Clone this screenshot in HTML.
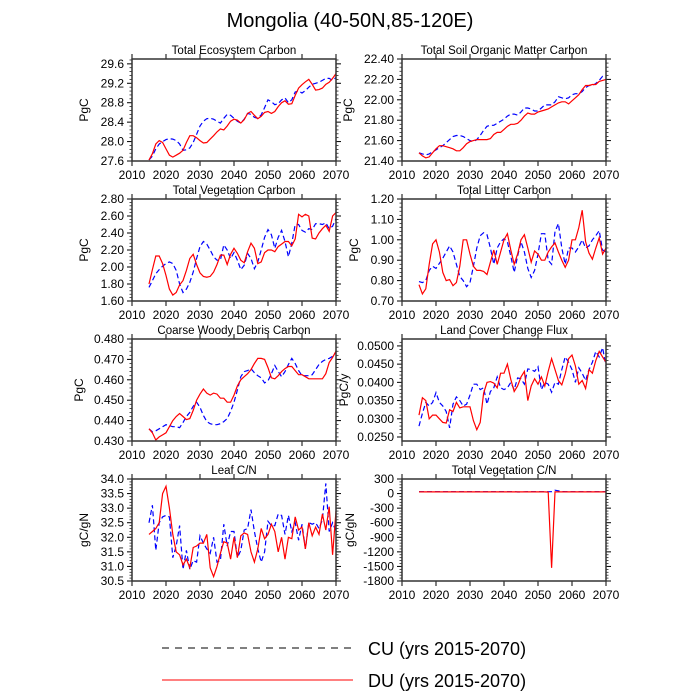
<!DOCTYPE html>
<html><head><meta charset="utf-8"><style>
body{margin:0;background:#fff}
svg{display:block;font-family:"Liberation Sans",sans-serif}
</style></head><body>
<svg id="c" width="700" height="700">
<text x="350" y="27" text-anchor="middle" font-size="20">Mongolia (40-50N,85-120E)</text>
<line x1="162" y1="648" x2="353" y2="648" stroke="#000" stroke-width="1" stroke-dasharray="7,6"/>
<text x="368" y="655" font-size="18">CU (yrs 2015-2070)</text>
<line x1="162" y1="680" x2="353" y2="680" stroke="#f00" stroke-width="1"/>
<text x="368" y="687" font-size="18">DU (yrs 2015-2070)</text>
</svg>
<script>
const xTicks=[2010,2020,2030,2040,2050,2060,2070];
const startYear=2015;
const teRed=[27.62,27.75,27.95,28.02,27.98,27.85,27.72,27.68,27.72,27.76,27.82,27.98,28.12,28.12,28.08,28.02,27.97,27.98,28.05,28.12,28.2,28.26,28.24,28.32,28.42,28.46,28.44,28.38,28.45,28.58,28.62,28.54,28.47,28.52,28.6,28.62,28.58,28.62,28.72,28.8,28.84,28.77,28.78,28.95,29.1,29.17,29.23,29.28,29.18,29.06,29.07,29.1,29.18,29.22,29.3,29.4];
const teBlue=[27.62,27.7,27.85,27.95,28.0,28.04,28.06,28.05,28.02,27.95,27.82,27.83,27.87,27.98,28.15,28.32,28.42,28.47,28.48,28.46,28.42,28.38,28.48,28.56,28.54,28.48,28.42,28.38,28.46,28.58,28.56,28.5,28.48,28.55,28.7,28.86,28.82,28.76,28.78,28.86,28.9,28.8,28.86,29.02,29.04,29.0,29.05,29.12,29.18,29.2,29.22,29.26,29.3,29.3,29.26,29.32];
const teTicks=[27.6,28.0,28.4,28.8,29.2,29.6];
const soRed=[21.48,21.45,21.43,21.44,21.48,21.52,21.55,21.55,21.54,21.53,21.52,21.5,21.5,21.53,21.57,21.59,21.6,21.61,21.61,21.61,21.61,21.62,21.66,21.68,21.68,21.71,21.74,21.76,21.76,21.77,21.8,21.84,21.87,21.86,21.86,21.88,21.89,21.9,21.91,21.93,21.95,21.97,21.98,21.98,21.96,21.99,22.02,22.05,22.1,22.14,22.14,22.15,22.15,22.18,22.19,22.2];
const soBlue=[21.48,21.47,21.46,21.47,21.49,21.51,21.53,21.55,21.58,21.61,21.64,21.65,21.65,21.64,21.62,21.6,21.59,21.61,21.65,21.7,21.74,21.75,21.75,21.77,21.79,21.81,21.84,21.86,21.86,21.85,21.88,21.92,21.92,21.91,21.89,21.89,21.92,21.95,21.95,21.95,21.98,22.03,22.02,22.01,22.02,22.05,22.06,22.06,22.08,22.12,22.14,22.14,22.16,22.19,22.23,22.23];
const soTicks=[21.4,21.6,21.8,22.0,22.2,22.4];
const tvRed=[1.8,1.97,2.13,2.13,2.04,1.9,1.74,1.67,1.7,1.79,1.84,1.96,2.1,2.15,2.03,1.93,1.89,1.88,1.89,1.94,2.03,2.14,2.14,2.03,2.15,2.22,2.16,2.08,2.05,2.18,2.28,2.22,2.04,2.06,2.17,2.2,2.2,2.18,2.24,2.27,2.3,2.3,2.25,2.33,2.62,2.59,2.62,2.6,2.34,2.33,2.4,2.45,2.49,2.42,2.6,2.64];
const tvBlue=[1.76,1.84,1.92,1.97,2.01,2.04,2.06,2.04,1.96,1.8,1.7,1.74,1.82,1.94,2.1,2.24,2.3,2.27,2.2,2.12,2.08,2.08,2.26,2.2,2.1,2.17,2.08,1.97,2.02,2.16,2.1,1.98,2.06,2.2,2.35,2.44,2.38,2.22,2.35,2.43,2.3,2.12,2.28,2.5,2.5,2.43,2.41,2.45,2.44,2.51,2.51,2.5,2.52,2.45,2.48,2.57];
const tvTicks=[1.6,1.8,2.0,2.2,2.4,2.6,2.8];
const tlRed=[0.78,0.735,0.76,0.88,0.98,1.0,0.94,0.84,0.8,0.805,0.775,0.79,0.87,1.0,1.0,0.93,0.87,0.85,0.85,0.845,0.83,0.89,0.95,0.88,0.94,1.0,1.03,0.95,0.88,0.93,1.0,1.025,0.96,0.89,0.945,0.93,0.9,0.9,0.94,0.965,0.985,0.94,0.9,0.865,0.9,1.0,1.0,1.06,1.145,0.99,0.935,0.905,0.96,1.01,0.93,0.96];
const tlBlue=[0.795,0.79,0.8,0.85,0.87,0.86,0.885,0.91,0.94,0.97,0.94,0.88,0.82,0.8,0.77,0.79,0.87,0.96,1.02,1.035,1.025,0.96,0.88,0.96,0.99,1.005,0.99,0.92,0.84,0.92,0.99,0.94,0.86,0.815,0.85,0.93,1.03,1.03,0.9,0.88,1.04,1.08,0.96,0.88,0.96,0.96,0.94,0.965,1.0,0.96,0.97,1.0,1.02,1.045,0.95,0.94];
const tlTicks=[0.7,0.8,0.9,1.0,1.1,1.2];
const cwRed=[0.436,0.434,0.4305,0.432,0.433,0.434,0.437,0.44,0.442,0.4435,0.442,0.4405,0.441,0.445,0.45,0.453,0.4555,0.4535,0.4525,0.4535,0.453,0.451,0.451,0.449,0.449,0.4525,0.457,0.46,0.4615,0.463,0.465,0.468,0.4705,0.4705,0.47,0.466,0.461,0.4605,0.462,0.464,0.4655,0.4665,0.4665,0.4645,0.4625,0.4625,0.4615,0.4605,0.4605,0.4605,0.4605,0.4605,0.463,0.4685,0.471,0.474];
const cwBlue=[0.436,0.4345,0.435,0.436,0.437,0.438,0.4375,0.437,0.437,0.4365,0.439,0.442,0.444,0.447,0.449,0.4465,0.4425,0.4395,0.4385,0.438,0.438,0.4385,0.4395,0.441,0.4445,0.449,0.455,0.4615,0.464,0.4645,0.4655,0.4635,0.462,0.461,0.4585,0.4595,0.463,0.467,0.464,0.4615,0.464,0.4675,0.4705,0.468,0.4645,0.462,0.462,0.462,0.4625,0.465,0.4675,0.469,0.47,0.4705,0.4715,0.4735];
const cwTicks=[0.43,0.44,0.45,0.46,0.47,0.48];
const lcRed=[0.031,0.0358,0.035,0.03,0.031,0.031,0.03,0.029,0.0288,0.0325,0.032,0.0345,0.033,0.0333,0.0333,0.0333,0.0295,0.027,0.029,0.037,0.04,0.0402,0.0398,0.0385,0.0425,0.0425,0.045,0.0408,0.0375,0.039,0.0415,0.043,0.035,0.039,0.041,0.0395,0.0415,0.039,0.043,0.0465,0.0435,0.0405,0.0393,0.0423,0.0465,0.0475,0.0445,0.0395,0.0405,0.0383,0.0435,0.0425,0.046,0.0485,0.047,0.0455];
const lcBlue=[0.028,0.0315,0.0345,0.0335,0.0345,0.0372,0.0345,0.0335,0.032,0.0275,0.034,0.036,0.035,0.0335,0.034,0.0365,0.0395,0.0395,0.038,0.0385,0.034,0.0375,0.0385,0.0415,0.0385,0.038,0.0385,0.04,0.038,0.0412,0.041,0.0395,0.0437,0.0435,0.043,0.0443,0.038,0.04,0.0395,0.0373,0.04,0.0395,0.0435,0.047,0.0455,0.0435,0.04,0.044,0.0425,0.0405,0.0435,0.0455,0.0485,0.047,0.0495,0.0445];
const lcTicks=[0.025,0.03,0.035,0.04,0.045,0.05];
const lnRed=[32.1,32.2,32.3,32.5,33.5,33.75,33.0,32.1,31.5,31.4,31.05,31.25,30.95,31.65,31.7,31.8,31.8,32.1,30.95,30.65,31.0,31.45,31.85,31.8,31.25,32.0,31.3,32.05,32.15,32.1,31.5,31.15,31.6,32.3,31.95,32.1,32.45,32.2,31.5,32.0,31.25,32.0,31.95,32.7,32.25,32.35,31.6,32.5,32.05,32.35,32.1,32.8,32.25,33.05,31.4,32.9];
const lnBlue=[32.5,33.1,31.55,32.5,32.7,32.75,32.7,31.3,31.7,32.4,30.9,31.55,30.9,31.2,31.15,32.05,31.8,31.6,31.45,32.0,31.15,31.2,32.45,31.7,32.2,32.2,31.3,31.55,32.25,32.3,32.95,32.2,31.6,31.15,31.5,32.55,32.4,32.4,32.8,32.75,32.1,32.75,32.2,32.5,31.9,32.45,31.6,32.5,32.45,32.5,32.3,32.6,33.85,32.2,32.5,32.2];
const lnTicks=[30.5,31.0,31.5,32.0,32.5,33.0,33.5,34.0];
const vnRed=[35,35,35,35,35,35,35,35,35,35,35,35,35,35,35,35,35,35,35,35,35,35,35,35,35,35,35,35,35,35,35,35,35,35,35,35,35,35,30,-1530,35,35,35,35,35,35,35,35,35,35,35,35,35,35,35,35];
const vnBlue=[38,38,38,38,38,38,38,38,38,38,38,38,38,38,38,38,38,38,38,38,38,38,38,38,38,38,38,38,38,32,33,35,38,38,38,38,38,38,38,38,70,55,40,38,38,38,38,38,38,38,38,38,38,38,38,38];
const vnTicks=[-1800,-1500,-1200,-900,-600,-300,0,300];

const panels=[
 {n:'total-ecosystem-carbon',t:'Total Ecosystem Carbon',u:'PgC',x0:132,y0:59,min:27.6,max:29.7,ticks:teTicks,d:1,red:teRed,blue:teBlue,lo:44},
 {n:'total-soil-carbon',t:'Total Soil Organic Matter Carbon',u:'PgC',x0:402,y0:59,min:21.4,max:22.4,ticks:soTicks,d:2,red:soRed,blue:soBlue,lo:50},
 {n:'total-vegetation-carbon',t:'Total Vegetation Carbon',u:'PgC',x0:132,y0:199,min:1.6,max:2.8,ticks:tvTicks,d:2,red:tvRed,blue:tvBlue,lo:44},
 {n:'total-litter-carbon',t:'Total Litter Carbon',u:'PgC',x0:402,y0:199,min:0.7,max:1.2,ticks:tlTicks,d:2,red:tlRed,blue:tlBlue,lo:44},
 {n:'coarse-woody-debris',t:'Coarse Woody Debris Carbon',u:'PgC',x0:132,y0:339,min:0.43,max:0.48,ticks:cwTicks,d:3,red:cwRed,blue:cwBlue,lo:49},
 {n:'land-cover-change-flux',t:'Land Cover Change Flux',u:'PgC/y',x0:402,y0:339,min:0.0239,max:0.0519,ticks:lcTicks,d:4,red:lcRed,blue:lcBlue,lo:54},
 {n:'leaf-cn',t:'Leaf C/N',u:'gC/gN',x0:132,y0:479,min:30.5,max:34.0,ticks:lnTicks,d:1,red:lnRed,blue:lnBlue,lo:44},
 {n:'total-vegetation-cn',t:'Total Vegetation C/N',u:'gC/gN',x0:402,y0:479,min:-1800,max:300,ticks:vnTicks,d:0,red:vnRed,blue:vnBlue,lo:48}
];
const W=204,H=102,NS='http://www.w3.org/2000/svg';
const svg=document.getElementById('c');
function mk(tag,at,parent){const e=document.createElementNS(NS,tag);for(const k in at)e.setAttribute(k,at[k]);(parent||svg).appendChild(e);return e;}
panels.forEach(p=>{
 const g=mk('g',{});
 
 
 const xs=v=>p.x0+(v-2010)/60*W;
 const ys=v=>p.y0+H-(v-p.min)/(p.max-p.min)*H;
 const tt=mk('text',{x:p.x0+W/2,y:p.y0-5,'text-anchor':'middle','font-size':11.5},g);tt.textContent=p.t;
 
 
 const yl=mk('text',{transform:`translate(${p.x0-p.lo},${p.y0+H/2}) rotate(-90)`,'text-anchor':'middle','font-size':12},g);yl.textContent=p.u;
 
 
 xTicks.forEach(v=>{const x=xs(v);
  mk('line',{x1:x,x2:x,y1:p.y0+H,y2:p.y0+H+5,stroke:'#000','stroke-width':1},g);
  mk('line',{x1:x,x2:x,y1:p.y0,y2:p.y0-5,stroke:'#000','stroke-width':1},g);
  const t=mk('text',{x:x,y:p.y0+H+18,'text-anchor':'middle','font-size':12},g);t.textContent=v;
  
  
 });
 const step=p.ticks[1]-p.ticks[0];
 p.ticks.forEach((v,i)=>{const y=ys(v);
  mk('line',{x1:p.x0-5,x2:p.x0,y1:y,y2:y,stroke:'#000'},g);
  mk('line',{x1:p.x0+W,x2:p.x0+W+5,y1:y,y2:y,stroke:'#000'},g);
  for(let k=1;k<5;k++){const mv=v+step*k/5;if(mv>p.max)break;const my=ys(mv);
   mk('line',{x1:p.x0-2.5,x2:p.x0,y1:my,y2:my,stroke:'#000','stroke-width':0.7},g);
   mk('line',{x1:p.x0+W,x2:p.x0+W+2.5,y1:my,y2:my,stroke:'#000','stroke-width':0.7},g);}
  const t=mk('text',{x:p.x0-8,y:y+4,'text-anchor':'end','font-size':12},g);t.textContent=v.toFixed(p.d);
  
  
 });
 const path=(arr,col,dash,name)=>{const d=arr.map((v,i)=>(i?'L':'M')+xs(startYear+i).toFixed(1)+','+ys(v).toFixed(1)).join('');
  const e=mk('path',{d:d,fill:'none',stroke:col,'stroke-width':1.2,'stroke-dasharray':dash},g);
  
  };
 path(p.blue,'#00f','5,3',p.n+'-cu-line');
 path(p.red,'#f00','none',p.n+'-du-line');
 const fr=mk('rect',{x:p.x0,y:p.y0,width:W,height:H,fill:'none',stroke:'#333','stroke-width':1.5},g);
 
 
});
</script>
</body></html>
